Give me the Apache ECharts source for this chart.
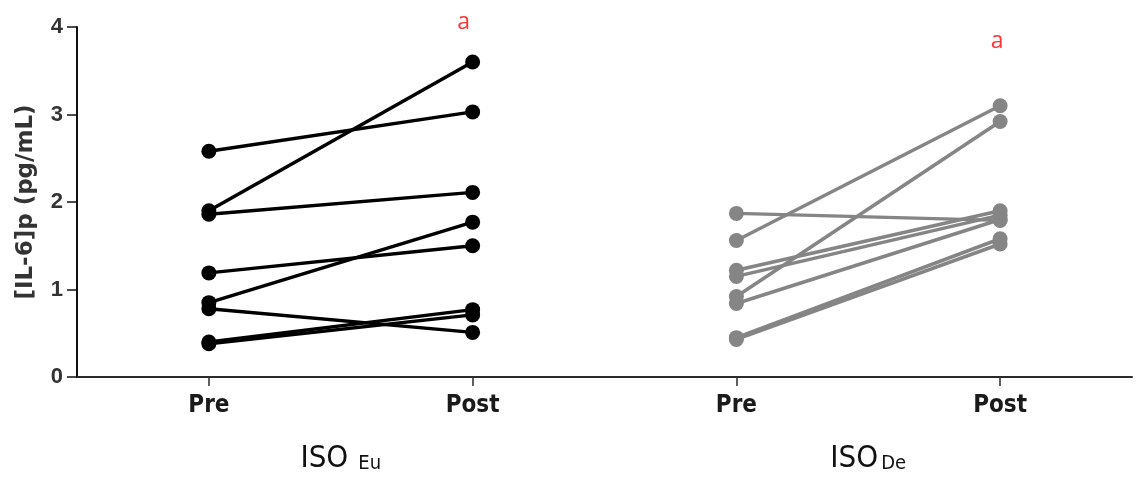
<!DOCTYPE html>
<html>
<head>
<meta charset="utf-8">
<script src="https://cdn.jsdelivr.net/npm/echarts@6/dist/echarts.min.js"></script>
<style>
  html, body { margin: 0; padding: 0; background: #fff; }
  #chart { width: 1139px; height: 477px; }
</style>
</head>
<body>
<div id="chart"></div>
<script>
// ---- data ----
var timeLabels = ['Pre', 'Post', 'Pre', 'Post'];
var groupNames = ['ISO', 'ISO'];
var groupSubs = ['Eu', 'De'];
var yTicks = [0, 1, 2, 3, 4];

// ISO Eu subjects (pre -> post)
var euPre  = [2.58, 1.90, 1.86, 1.19, 0.85, 0.78, 0.40, 0.38];
var euPost = [3.03, 3.60, 2.11, 1.50, 1.77, 0.51, 0.77, 0.71];
// ISO De subjects (pre -> post)
var dePre  = [1.87, 1.56, 1.22, 1.15, 0.92, 0.84, 0.45, 0.43];
var dePost = [1.79, 3.10, 1.90, 1.85, 2.92, 1.80, 1.58, 1.52];

// significance marks
var annoText = ['a', 'a'];
var annoX = [1, 3];
var annoY = [4.05, 3.84];

// ---- chart ----
var chart = echarts.init(document.getElementById('chart'), null, { renderer: 'canvas' });
var condensed = '"Liberation Sans Narrow", "DejaVu Sans Condensed", "Roboto Condensed", "Liberation Sans", sans-serif';

var series = [];
function addGroup(pre, post, xi, color) {
  for (var i = 0; i < pre.length; i++) {
    series.push({
      type: 'line',
      xAxisIndex: 0, yAxisIndex: 0,
      data: [[xi, pre[i]], [xi + 1, post[i]]],
      symbol: 'circle',
      symbolSize: 15,
      showSymbol: true,
      lineStyle: { color: color, width: 3.5 },
      itemStyle: { color: color },
      emphasis: { disabled: true },
      silent: true,
      animation: false,
      z: 3
    });
  }
}
addGroup(euPre, euPost, 0, '#000000');
addGroup(dePre, dePost, 2, '#858585');

var annoOffsets = [[-9, 0], [-3, 0]];
series.push({
  type: 'scatter',
  xAxisIndex: 0, yAxisIndex: 0,
  clip: false,
  symbolSize: 1,
  itemStyle: { color: 'rgba(0,0,0,0)' },
  data: annoX.map(function (x, i) {
    return { value: [x, annoY[i]], name: annoText[i], label: { offset: annoOffsets[i] } };
  }),
  label: {
    show: true,
    position: 'inside',
    formatter: function (p) { return p.name; },
    color: '#ff0000',
    fontSize: 23,
    fontFamily: 'Open Sans, Lato, sans-serif'
  },
  silent: true,
  animation: false
});

var option = {
  backgroundColor: '#ffffff',
  animation: false,
  grid: { left: 77, right: 7, top: 27, bottom: 100 },
  xAxis: [
    {
      type: 'category',
      data: timeLabels.map(function (t, i) { return String(i); }),
      boundaryGap: true,
      axisLine: { show: true, lineStyle: { color: '#2b2b2b', width: 2 } },
      axisTick: { show: true, alignWithLabel: true, length: 9, lineStyle: { color: '#2b2b2b', width: 1.5 } },
      axisLabel: {
        show: true,
        margin: 17,
        formatter: function (v, idx) { return timeLabels[idx]; },
        color: '#1a1a1a',
        fontSize: 24,
        fontWeight: 'bold',
        fontFamily: condensed
      },
      splitLine: { show: false }
    },
    {
      type: 'category',
      gridIndex: 0,
      position: 'bottom',
      offset: 58,
      data: groupNames.map(function (g, i) { return String(i); }),
      boundaryGap: true,
      axisLine: { show: false },
      axisTick: { show: false },
      axisLabel: {
        show: true,
        margin: 8,
        formatter: function (v, idx) {
          return '{b|' + groupNames[idx] + '}{s' + idx + '|' + groupSubs[idx] + '}';
        },
        rich: {
          b: { fontSize: 31, lineHeight: 31, verticalAlign: 'top', color: '#111', fontFamily: condensed },
          s0: { fontSize: 20, lineHeight: 20, verticalAlign: 'bottom', padding: [15, 0, 0, 10], color: '#111', fontFamily: condensed },
          s1: { fontSize: 20, lineHeight: 20, verticalAlign: 'bottom', padding: [15, 0, 0, 3], color: '#111', fontFamily: condensed }
        }
      },
      splitLine: { show: false }
    }
  ],
  yAxis: {
    type: 'value',
    min: yTicks[0],
    max: yTicks[yTicks.length - 1],
    interval: 1,
    name: '[IL-6]p (pg/mL)',
    nameLocation: 'middle',
    nameGap: 39,
    nameRotate: 90,
    nameTextStyle: {
      fontSize: 23, fontWeight: 'bold', color: '#333',
      fontFamily: '"DejaVu Sans", "Liberation Sans", Arial, sans-serif'
    },
    axisLine: { show: true, lineStyle: { color: '#111', width: 2 } },
    axisTick: { show: true, length: 10, lineStyle: { color: '#111', width: 1.5 } },
    axisLabel: {
      show: true, margin: 14,
      color: '#333', fontSize: 22, fontWeight: 'bold',
      fontFamily: '"Liberation Sans", Arial, sans-serif'
    },
    splitLine: { show: false }
  },
  series: series
};
chart.setOption(option);
</script>
</body>
</html>
